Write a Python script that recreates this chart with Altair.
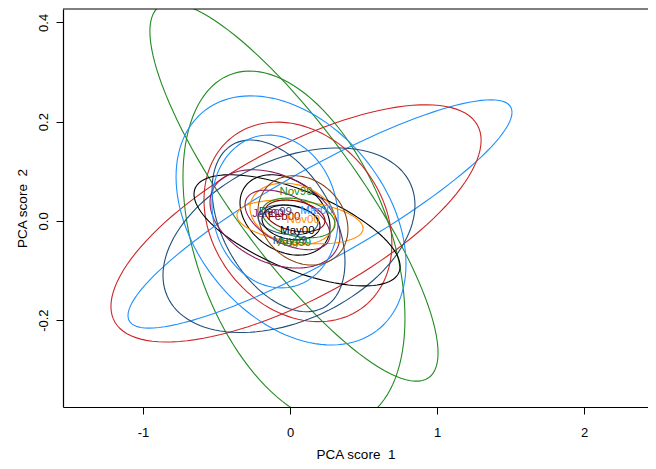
import numpy as np
import pandas as pd
import altair as alt

# Ellipse parameters (data units): centre, half-extent in x and y, correlation
ell_id    = ["gA", "gB", "bC", "rD", "bE", "rF", "n1", "n2", "kG", "kH",
             "m1", "b2", "o1", "o2", "br1", "m2", "dr", "n3", "g3", "k3"]
ell_color = ["#228B22", "#228B22", "#1E90FF", "#CD2626", "#1E90FF", "#CD2626",
             "#1F4E79", "#1F4E79", "#000000", "#000000",
             "#8B1C62", "#1E90FF", "#FF8C00", "#FF8C00", "#8B4513", "#8B1C62",
             "#8B0000", "#1F4E79", "#228B22", "#000000"]
ell_cx = [0.027, 0.027, 0.204, 0.041, 0.007, 0.054, -0.007, -0.078, 0.048, -0.034,
          -0.102, -0.102, 0.068, 0.017, 0.088, -0.017, 0.034, -0.014, 0.058, 0.007]
ell_cy = [0.058, -0.054, 0.014, -0.005, 0.001, -0.002, -0.039, -0.010, -0.019, 0.012,
          0.004, 0.019, -0.002, 0.014, 0.001, 0.002, 0.010, 0.002, 0.006, -0.003]
ell_sx = [0.980, 0.755, 1.306, 1.259, 0.782, 0.639, 0.857, 0.452, 0.701, 0.306,
          0.442, 0.429, 0.429, 0.289, 0.306, 0.289, 0.204, 0.204, 0.248, 0.197]
ell_sy = [0.381, 0.356, 0.230, 0.239, 0.251, 0.201, 0.186, 0.173, 0.112, 0.081,
          0.099, 0.154, 0.044, 0.062, 0.090, 0.060, 0.032, 0.030, 0.040, 0.035]
ell_r  = [-0.85, -0.40, 0.89, 0.70, -0.35, -0.22, 0.38, -0.42, -0.65, -0.30,
          -0.34, -0.10, -0.30, -0.20, -0.20, -0.50, -0.30, -0.20, -0.30, -0.20]

# Group labels at the centres
lab_text  = ["Nov99", "Dec99", "Mar00", "Jan00", "Feb00", "Nov00", "May00", "May99", "Aug99"]
lab_color = ["#228B22", "#1F4E79", "#1E90FF", "#8B1C62", "#8B0000", "#FF8C00",
             "#000000", "#1F4E79", "#228B22"]
lab_x = [0.041, -0.100, 0.180, -0.150, -0.040, 0.090, 0.050, 0.000, 0.030]
lab_y = [0.058, 0.018, 0.020, 0.014, 0.008, 0.002, -0.020, -0.040, -0.044]

x_ticks = [-1, 0, 1, 2]
y_ticks = [-0.2, 0.0, 0.2, 0.4]

rows = []
t = np.linspace(0, 2 * np.pi, 121)
for i, eid in enumerate(ell_id):
    d = np.arccos(ell_r[i])
    xs = ell_cx[i] + ell_sx[i] * np.cos(t)
    ys = ell_cy[i] + ell_sy[i] * np.cos(t + d)
    for k in range(len(t)):
        rows.append({"id": eid, "k": k, "x": xs[k], "y": ys[k], "col": ell_color[i]})
df = pd.DataFrame(rows)
labs = pd.DataFrame({"text": lab_text, "col": lab_color, "x": lab_x, "y": lab_y})

W, H = 585, 398
FONT = "Liberation Sans"
xscale = alt.Scale(domain=[-1.544, 2.435], nice=False, zero=False)
yscale = alt.Scale(domain=[-0.375, 0.427], nice=False, zero=False)

xaxis = alt.Axis(values=x_ticks, title="PCA score \u00a01", grid=False,
                 tickSize=7, tickColor="black", domainColor="black", domainWidth=1.2,
                 labelFont=FONT, labelFontSize=13, labelColor="black", labelPadding=12,
                 labelExpr="datum.value < 0 ? '-' + format(-datum.value, 'd') : format(datum.value, 'd')",
                 titleFont=FONT, titleFontSize=13.5, titleFontWeight="normal", titleColor="black",
                 titlePadding=8)
yaxis = alt.Axis(values=y_ticks, title="PCA score \u00a02", grid=False,
                 tickSize=7, tickColor="black", domainColor="black", domainWidth=1.2,
                 labelFont=FONT, labelFontSize=13, labelColor="black", labelPadding=6,
                 labelAngle=270, labelAlign="center", labelBaseline="bottom",
                 labelExpr="datum.value < 0 ? '-' + format(-datum.value, '.1f') : format(datum.value, '.1f')",
                 titleFont=FONT, titleFontSize=13.5, titleFontWeight="normal", titleColor="black",
                 titlePadding=8)

lines = alt.Chart(df).mark_line(strokeWidth=1.1, clip=True).encode(
    x=alt.X("x:Q", scale=xscale, axis=xaxis),
    y=alt.Y("y:Q", scale=yscale, axis=yaxis),
    detail="id:N",
    order="k:Q",
    color=alt.Color("col:N", scale=None),
)

texts = alt.Chart(labs).mark_text(font=FONT, fontSize=11.5, clip=True).encode(
    x=alt.X("x:Q", scale=xscale),
    y=alt.Y("y:Q", scale=yscale),
    text="text:N",
    color=alt.Color("col:N", scale=None),
)

topline = alt.Chart(pd.DataFrame({"a": [0]})).mark_rule(color="black", strokeWidth=1.2).encode(
    x=alt.value(0), x2=alt.value(W), y=alt.value(0)
)

chart = alt.layer(lines, texts, topline).properties(
    width=W, height=H,
    autosize=alt.AutoSizeParams(type="none"),
    padding={"left": 55, "top": 1, "right": 0, "bottom": 56},
).configure_view(stroke=None)

chart.save("out.html", embed_options={"renderer": "svg", "actions": False})
